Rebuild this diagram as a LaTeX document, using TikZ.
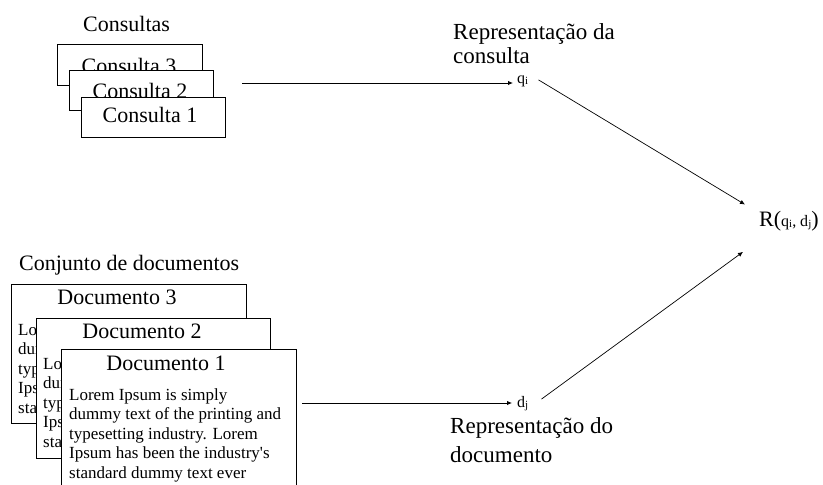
\documentclass[tikz,border=0pt]{standalone}
\usepackage{fontspec}
\setmainfont{Liberation Serif}
\usetikzlibrary{arrows.meta}
\begin{document}
\begin{tikzpicture}[x=1pt,y=-1pt,
  big/.style={font=\fontsize{22}{24}\selectfont, inner sep=0pt},
  rep/.style={font=\fontsize{23}{24}\selectfont, inner sep=0pt},
  body/.style={font=\fontsize{17}{19.5}\selectfont, inner sep=0pt, align=left},
  sym/.style={font=\fontsize{16}{18}\selectfont, inner sep=0pt},
  pbox/.style={draw, fill=white, line width=1pt, inner sep=0pt, anchor=north west},
  arr/.style={line width=0.9pt, -{Latex[length=5pt,width=4.5pt]}},
  link/.style={line width=0.7pt, -{Latex[length=5pt,width=4.5pt]}}]
\newcommand{\sub}[1]{\raisebox{-1pt}{\fontsize{11}{11}\selectfont #1}}
\newcommand{\lorem}{Lorem Ipsum is simply\\dummy text of the printing and\\typesetting industry. Lorem\\Ipsum has been the industry\textquotesingle s\\standard dummy text ever}
\useasboundingbox (0,0) rectangle (823,485);
\clip (0,0) rectangle (823,485);
\fill[white] (0,0) rectangle (823,485);

% Consultas
\node[big, anchor=base west] (tc) at (83,31) {Consultas};
\node[pbox, minimum width=145pt, minimum height=41pt] (c3) at (57,44) {};
\node[big, anchor=base] (t3) at (129,73) {Consulta 3};
\node[pbox, minimum width=144pt, minimum height=40pt] (c2) at (69,70) {};
\node[big, anchor=base] (t2) at (140,98) {Consulta 2};
\node[pbox, minimum width=144pt, minimum height=40pt] (c1) at (81,97) {};
\node[big, anchor=base] (t1) at (150,122) {Consulta 1};

% Documentos
\node[big, anchor=base west] (td) at (19,270) {Conjunto de documentos};
\node[pbox, minimum width=235pt, minimum height=139pt] (d3) at (11,284) {};
\node[big, anchor=base] (dt3) at (117,304) {Documento 3};
\node[body, anchor=base west] (db3) at (18,413) {\lorem};
\node[pbox, minimum width=234pt, minimum height=140pt] (d2) at (36,318) {};
\node[big, anchor=base] (dt2) at (142,338) {Documento 2};
\node[body, anchor=base west] (db2) at (43,447) {\lorem};
\node[pbox, minimum width=235pt, minimum height=140pt] (d1) at (61,349) {};
\node[big, anchor=base] (dt1) at (166,370) {Documento 1};
\node[body, anchor=base west] (db1) at (69,478) {\lorem};

% Representations
\node[rep, anchor=base west] (rq1) at (453,39) {Representação da};
\node[rep, anchor=base west] (rq2) at (453,63) {consulta};
\node[sym, anchor=base west] (q) at (517,83) {q\sub{i}};
\node[rep, anchor=base west] (rd1) at (450,433) {Representação do};
\node[rep, anchor=base west] (rd2) at (450,462) {documento};
\node[sym, anchor=base west] (d) at (517,407) {d\sub{j}};
\node[big, anchor=base west] (R) at (759,226) {R({\fontsize{16}{18}\selectfont q\sub{i}, d\sub{j}})};

% Connectors
\coordinate (qs) at (242,83);
\coordinate (ds) at (302,403);
\draw[arr] (qs) -- ([xshift=-4pt]q.base west);
\draw[arr] (ds) -- ([xshift=-5pt,yshift=4pt]d.base west);
\draw[link] ([shift={(10pt,1pt)}]q.east) -- ([shift={(-14pt,6pt)}]R.north west);
\draw[link] ([shift={(13pt,4pt)}]d.east) -- ([shift={(-16pt,-21pt)}]R.south west);
\end{tikzpicture}
\end{document}
